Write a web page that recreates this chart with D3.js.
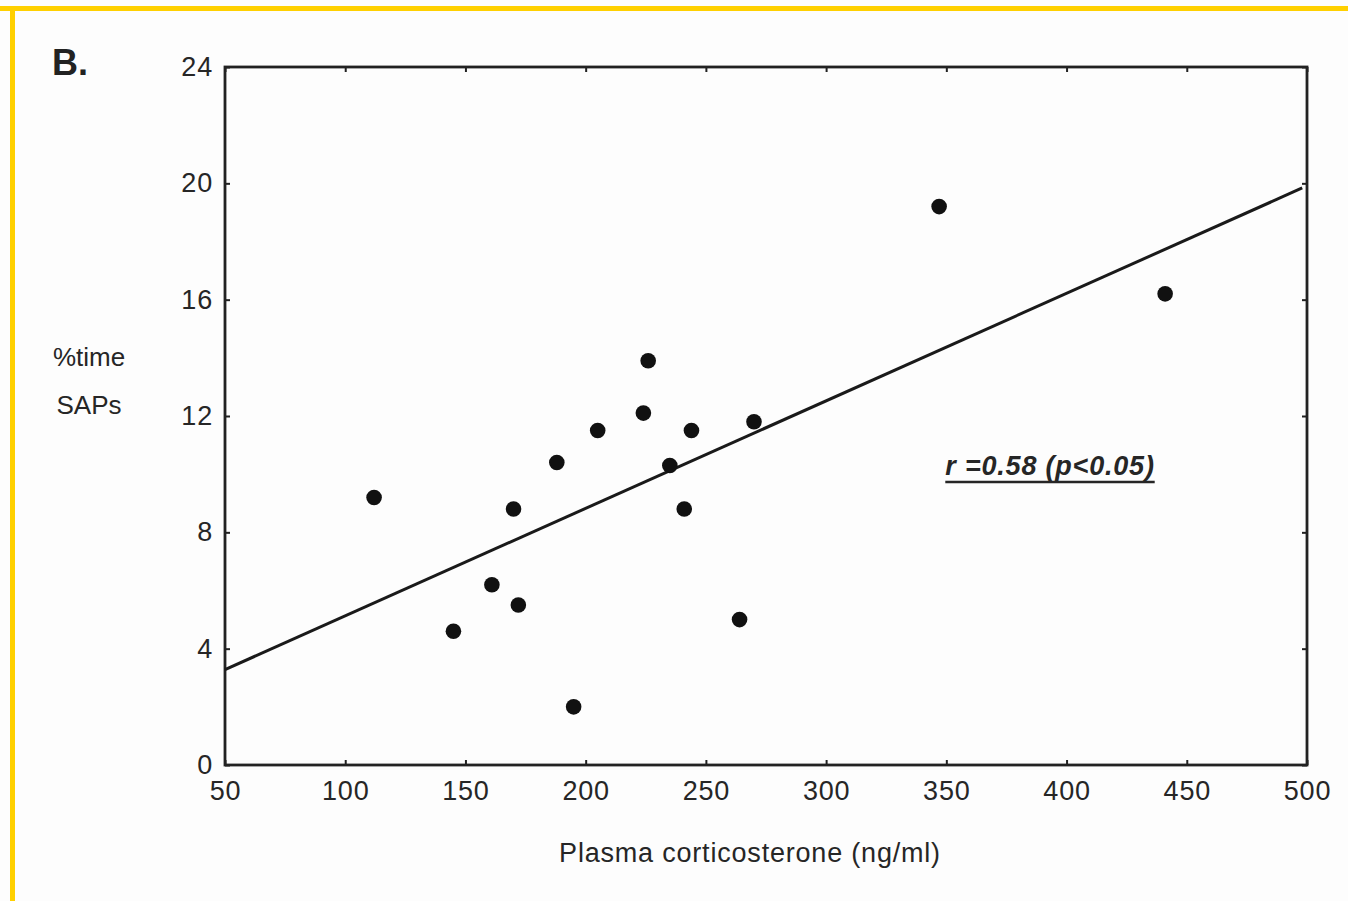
<!DOCTYPE html>
<html>
<head>
<meta charset="utf-8">
<script src="https://cdn.jsdelivr.net/npm/d3@7"></script>
<style>
  html, body { margin: 0; padding: 0; background: #fdfdfd; }
  svg { display: block; }
</style>
</head>
<body>
<div id="chart"></div>
<script>
// Data
const corticosterone = [112, 145, 161, 170, 172, 188, 195, 205, 224, 226, 235, 241, 244, 264, 270, 347, 441];
const pctTimeSAPs = [9.2, 4.6, 6.2, 8.8, 5.5, 10.4, 2.0, 11.5, 12.1, 13.9, 10.3, 8.8, 11.5, 5.0, 11.8, 19.2, 16.2];
const fitX = [50, 498];
const fitY = [3.28, 19.84];
const xTicks = [50, 100, 150, 200, 250, 300, 350, 400, 450, 500];
const yTicks = [0, 4, 8, 12, 16, 20, 24];

const width = 1348, height = 901;
const margin = { top: 67, right: 41, bottom: 136, left: 225 };
const font = '"Liberation Sans", Arial, sans-serif';
const ink = '#262626';

const svg = d3.select('#chart').append('svg')
  .attr('width', width)
  .attr('height', height);

svg.append('rect').attr('width', width).attr('height', height).attr('fill', '#fdfdfd');

// yellow frame (top and left)
svg.append('rect').attr('x', 0).attr('y', 6).attr('width', width).attr('height', 5).attr('fill', '#ffd000');
svg.append('rect').attr('x', 10).attr('y', 6).attr('width', 5).attr('height', height).attr('fill', '#ffd000');

const x = d3.scaleLinear().domain([50, 500]).range([margin.left, width - margin.right]);
const y = d3.scaleLinear().domain([0, 24]).range([height - margin.bottom, margin.top]);

const g = svg.append('g');

// inward ticks on all four sides
const tick = 5;
const styleAxis = sel => {
  sel.select('.domain').remove();
  sel.selectAll('.tick line').attr('stroke', '#222').attr('stroke-width', 2);
};
const styleLabels = sel => sel.selectAll('text')
  .attr('font-family', font).attr('font-size', 27)
  .attr('letter-spacing', 0.8).attr('fill', ink);

g.append('g').attr('transform', `translate(0,${y(0)})`)
  .call(d3.axisBottom(x).tickValues(xTicks).tickSize(-tick).tickPadding(16))
  .call(styleAxis)
  .call(styleLabels);
g.append('g').attr('transform', `translate(0,${y(24)})`)
  .call(d3.axisTop(x).tickValues(xTicks).tickSize(-tick).tickFormat(''))
  .call(styleAxis);
g.append('g').attr('transform', `translate(${x(50)},0)`)
  .call(d3.axisLeft(y).tickValues(yTicks).tickSize(-tick).tickPadding(12))
  .call(styleAxis)
  .call(styleLabels);
g.append('g').attr('transform', `translate(${x(500)},0)`)
  .call(d3.axisRight(y).tickValues(yTicks).tickSize(-tick).tickFormat(''))
  .call(styleAxis);

// frame
g.append('rect')
  .attr('x', x(50)).attr('y', y(24))
  .attr('width', x(500) - x(50)).attr('height', y(0) - y(24))
  .attr('fill', 'none').attr('stroke', '#222').attr('stroke-width', 2.8);

// regression line
const line = d3.line().x(d => x(d[0])).y(d => y(d[1]));
g.append('path')
  .datum(d3.zip(fitX, fitY))
  .attr('d', line)
  .attr('fill', 'none').attr('stroke', '#1a1a1a').attr('stroke-width', 3);

// points
g.selectAll('circle.pt')
  .data(d3.zip(corticosterone, pctTimeSAPs))
  .enter().append('circle')
  .attr('class', 'pt')
  .attr('cx', d => x(d[0]))
  .attr('cy', d => y(d[1]))
  .attr('r', 7.8)
  .attr('fill', '#111');

// annotation
const ann = g.append('text')
  .attr('x', 1050).attr('y', 475)
  .attr('text-anchor', 'middle')
  .attr('font-family', font).attr('font-size', 27)
  .attr('letter-spacing', 0.8)
  .attr('font-weight', 'bold').attr('font-style', 'italic')
  .attr('fill', ink)
  .text('r =0.58 (p<0.05)');
const bb = ann.node().getBBox();
g.append('line')
  .attr('x1', bb.x).attr('x2', bb.x + bb.width)
  .attr('y1', 482).attr('y2', 482)
  .attr('stroke', ink).attr('stroke-width', 2.5);

// labels
svg.append('text')
  .attr('x', 52).attr('y', 75)
  .attr('font-family', font).attr('font-size', 36).attr('font-weight', 'bold')
  .attr('fill', '#222').text('B.');

svg.append('text')
  .attr('x', 750).attr('y', 862)
  .attr('text-anchor', 'middle')
  .attr('font-family', font).attr('font-size', 27)
  .attr('letter-spacing', 0.8)
  .attr('fill', ink).text('Plasma corticosterone (ng/ml)');

svg.append('text')
  .attr('x', 89).attr('y', 366)
  .attr('text-anchor', 'middle')
  .attr('font-family', font).attr('font-size', 26)
  .attr('fill', ink).text('%time');
svg.append('text')
  .attr('x', 89).attr('y', 414)
  .attr('text-anchor', 'middle')
  .attr('font-family', font).attr('font-size', 26)
  .attr('fill', ink).text('SAPs');
</script>
</body>
</html>
